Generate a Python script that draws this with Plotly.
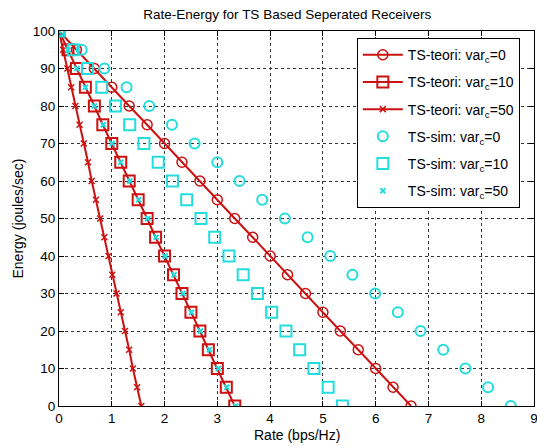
import plotly.graph_objects as go

energy = [100, 95, 90, 85, 80, 75, 70, 65, 60, 55, 50, 45, 40, 35, 30, 25, 20, 15, 10, 5, 0]
teori_var0 = [0, 0.33, 0.67, 1.00, 1.33, 1.67, 2.00, 2.33, 2.67, 3.00, 3.33, 3.67, 4.00, 4.33, 4.67, 5.00, 5.33, 5.67, 6.00, 6.33, 6.67]
teori_var10 = [0, 0.17, 0.33, 0.50, 0.67, 0.83, 1.00, 1.17, 1.33, 1.50, 1.67, 1.83, 2.00, 2.17, 2.33, 2.50, 2.67, 2.83, 3.00, 3.17, 3.33]
teori_var50 = [0, 0.08, 0.16, 0.23, 0.31, 0.39, 0.47, 0.55, 0.62, 0.70, 0.78, 0.86, 0.94, 1.01, 1.09, 1.17, 1.25, 1.33, 1.40, 1.48, 1.56]
sim_var0 = [0, 0.43, 0.86, 1.28, 1.71, 2.14, 2.57, 3.00, 3.42, 3.85, 4.28, 4.71, 5.14, 5.56, 5.99, 6.42, 6.85, 7.28, 7.70, 8.13, 8.56]
sim_var10 = [0, 0.27, 0.54, 0.81, 1.07, 1.34, 1.61, 1.88, 2.15, 2.42, 2.69, 2.95, 3.22, 3.49, 3.76, 4.03, 4.30, 4.56, 4.83, 5.10, 5.37]
sim_var50 = [0, 0.17, 0.34, 0.50, 0.67, 0.84, 1.01, 1.17, 1.34, 1.51, 1.68, 1.84, 2.01, 2.18, 2.35, 2.51, 2.68, 2.85, 3.02, 3.18, 3.35]

RED = "#cc1111"
CYAN = "#22dddd"

fig = go.Figure()
fig.add_trace(go.Scatter(x=teori_var0, y=energy, mode="lines+markers", name="TS-teori: var<sub>c</sub>=0",
                         legendgroup="a",
                         line=dict(color=RED, width=2),
                         marker=dict(symbol="circle-open", size=10, color=RED, line=dict(width=1.5))))
fig.add_trace(go.Scatter(x=teori_var10, y=energy, mode="lines+markers", name="TS-teori: var<sub>c</sub>=10",
                         legendgroup="b",
                         line=dict(color=RED, width=2),
                         marker=dict(symbol="square-open", size=11, color=RED, line=dict(width=2))))
fig.add_trace(go.Scatter(x=teori_var50, y=energy, mode="lines+markers", name="TS-teori: var<sub>c</sub>=50",
                         legendgroup="c",
                         line=dict(color=RED, width=2),
                         marker=dict(symbol="x-thin-open", size=6, color=RED, line=dict(width=1.5, color=RED))))
fig.add_trace(go.Scatter(x=sim_var0, y=energy, mode="markers", name="TS-sim: var<sub>c</sub>=0",
                         legendgroup="d",
                         marker=dict(symbol="circle-open", size=10, color=CYAN, line=dict(width=2))))
fig.add_trace(go.Scatter(x=sim_var10, y=energy, mode="markers", name="TS-sim: var<sub>c</sub>=10",
                         legendgroup="e",
                         marker=dict(symbol="square-open", size=11, color=CYAN, line=dict(width=2))))
fig.add_trace(go.Scatter(x=sim_var50, y=energy, mode="markers", name="TS-sim: var<sub>c</sub>=50",
                         legendgroup="f",
                         marker=dict(symbol="x-thin-open", size=5, color=CYAN, line=dict(width=2, color=CYAN))))

axis_common = dict(showline=True, linecolor="black", linewidth=1, mirror="ticks",
                   ticks="inside", ticklen=5, tickcolor="black",
                   showgrid=True, gridcolor="#333333", griddash="dot", gridwidth=1,
                   zeroline=False, automargin=False, ticklabeloverflow="allow",
                   tickfont=dict(size=13.5, color="black"))

fig.update_layout(
    width=537, height=446,
    margin=dict(l=59, r=3, t=31, b=40, autoexpand=False),
    paper_bgcolor="white", plot_bgcolor="white",
    font=dict(family="Liberation Sans, Arial, sans-serif", size=12, color="black"),
    title=dict(text="Rate-Energy for TS Based Seperated Receivers", xref="container", x=0.535, xanchor="center",
               y=0.969, yanchor="middle", font=dict(size=13.5)),
    xaxis=dict(range=[0, 9], dtick=1, **axis_common),
    yaxis=dict(range=[0, 100], dtick=10, **axis_common),
    legend=dict(x=0.627, y=0.981, xanchor="left", yanchor="top",
                bgcolor="white", bordercolor="black", borderwidth=1,
                font=dict(size=14), itemwidth=40, tracegroupgap=6),
    showlegend=True,
    annotations=[
        dict(text="Rate (bps/Hz)", xref="paper", yref="paper", x=0.5, y=0, yshift=-29,
             xanchor="center", yanchor="middle", showarrow=False, font=dict(size=14)),
        dict(text="Energy (joules/sec)", xref="paper", yref="paper", x=0, y=0.5, xshift=-42,
             xanchor="center", yanchor="middle", textangle=-90, showarrow=False, font=dict(size=14)),
    ],
)

fig.write_html("out.html", config={"displayModeBar": False},
               post_script="document.body.style.margin='0';document.body.style.overflow='hidden';")
